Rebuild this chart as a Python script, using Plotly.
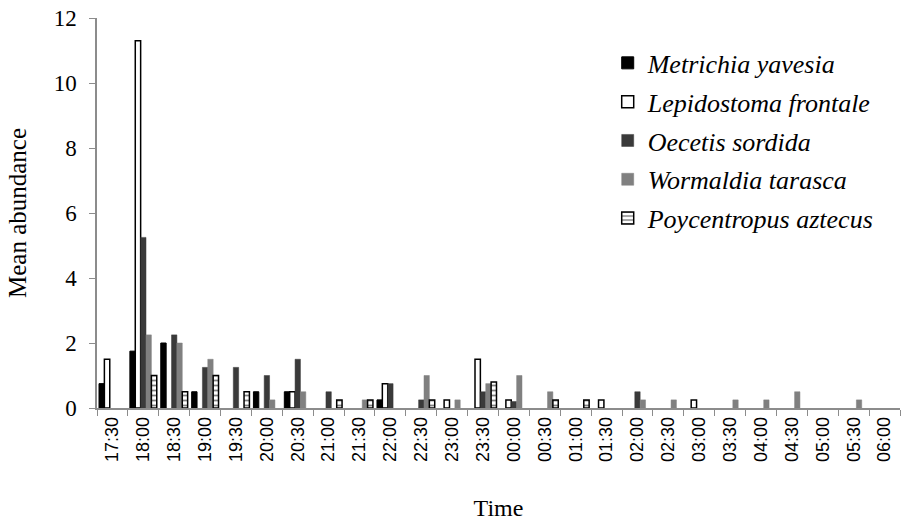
import plotly.graph_objects as go

times = ["17:30", "18:00", "18:30", "19:00", "19:30", "20:00", "20:30", "21:00", "21:30",
         "22:00", "22:30", "23:00", "23:30", "00:00", "00:30", "01:00", "01:30", "02:00",
         "02:30", "03:00", "03:30", "04:00", "04:30", "05:00", "05:30", "06:00"]

metrichia = [0.75, 1.75, 2.0, 0.5, 0, 0.5, 0.5, 0, 0, 0.25, 0, 0, 0, 0, 0, 0, 0, 0, 0, 0, 0, 0, 0, 0, 0, 0]
lepidostoma = [1.5, 11.3, 0, 0, 0, 0, 0.5, 0, 0, 0.75, 0, 0.25, 1.5, 0.25, 0, 0, 0.25, 0, 0, 0.25, 0, 0, 0, 0, 0, 0]
oecetis = [0, 5.25, 2.25, 1.25, 1.25, 1.0, 1.5, 0.5, 0, 0.75, 0.25, 0, 0.5, 0.2, 0, 0, 0, 0.5, 0, 0, 0, 0, 0, 0, 0, 0]
wormaldia = [0, 2.25, 2.0, 1.5, 0, 0.25, 0.5, 0, 0.25, 0, 1.0, 0.25, 0.75, 1.0, 0.5, 0, 0, 0.25, 0.25, 0, 0.25, 0.25, 0.5, 0, 0.25, 0]
poycentropus = [0, 1.0, 0.5, 1.0, 0.5, 0, 0, 0.25, 0.25, 0, 0.25, 0, 0.8, 0, 0.25, 0.25, 0, 0, 0, 0, 0, 0, 0, 0, 0, 0]

names = ["Metrichia yavesia", "Lepidostoma frontale", "Oecetis sordida",
         "Wormaldia tarasca", "Poycentropus aztecus"]
series = [metrichia, lepidostoma, oecetis, wormaldia, poycentropus]

SERIF = "Liberation Serif"

styles = [
    dict(color="#000000", line=dict(color="#000000", width=1)),
    dict(color="#ffffff", line=dict(color="#000000", width=1.5)),
    dict(color="#3a3a3a", line=dict(color="#3a3a3a", width=0.5)),
    dict(color="#808080", line=dict(color="#808080", width=0.5)),
    dict(color="#ffffff", line=dict(color="#000000", width=1.5),
         pattern=dict(shape="-", fgcolor="#000000", bgcolor="#ffffff", size=5, solidity=0.35)),
]

fig = go.Figure()
for i, (nm, vals) in enumerate(zip(names, series)):
    yv = [v if v else None for v in vals]
    fig.add_trace(go.Bar(x=times, y=yv, name="<i>" + nm + "</i>", marker=styles[i], legendgroup=nm))

fig.update_layout(
    width=901, height=522,
    margin=dict(l=97, r=1, t=18, b=114),
    paper_bgcolor="white", plot_bgcolor="white",
    barmode="group", bargap=0.13, bargroupgap=0.0,
    font=dict(family=SERIF, color="#000000", size=21),
    showlegend=True,
    legend=dict(x=0.636, y=0.945, xanchor="left", yanchor="top",
                font=dict(family=SERIF, size=26, color="#000000"),
                bgcolor="rgba(0,0,0,0)", tracegroupgap=2, traceorder="grouped",
                itemwidth=30),
    xaxis=dict(
        type="category",
        showline=True, linecolor="#8c8c8c", linewidth=1.5,
        ticks="outside", tickson="boundaries", ticklen=6, tickcolor="#8c8c8c",
        tickangle=-90,
        tickfont=dict(family="Liberation Sans", size=18, color="#000000"),
        showgrid=False, zeroline=False,
        title=dict(text="Time", font=dict(family=SERIF, size=24), standoff=38),
    ),
    yaxis=dict(
        range=[0, 12], dtick=2, tick0=0,
        showline=True, linecolor="#8c8c8c", linewidth=1.5,
        ticks="outside", ticklen=6, tickcolor="#8c8c8c",
        tickfont=dict(family=SERIF, size=23, color="#000000"),
        ticklabelstandoff=8, ticklabeloverflow="allow",
        showgrid=False, zeroline=False,
        title=dict(text="Mean abundance", font=dict(family=SERIF, size=25), standoff=20),
    ),
)

# remove the default 8px page margin so the figure fills the 901x522 window
fig.write_html("out.html", config={"displayModeBar": False},
               post_script="document.body.style.margin='0';")
